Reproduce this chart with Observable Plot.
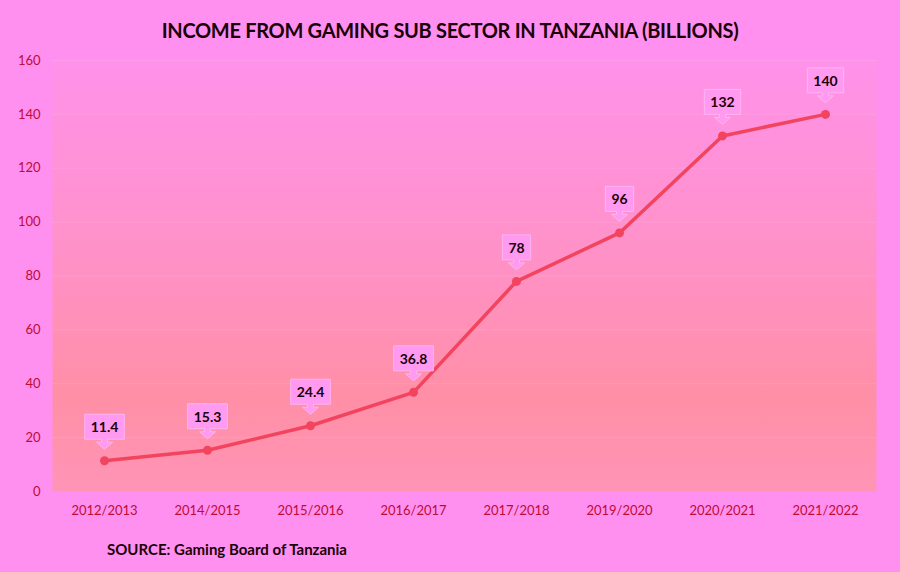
<!DOCTYPE html>
<html>
<head>
<meta charset="utf-8">
<script src="https://cdn.jsdelivr.net/npm/d3@7"></script>
<script src="https://cdn.jsdelivr.net/npm/@observablehq/plot@0.6"></script>
<style>
  html, body { margin: 0; padding: 0; background: #ff90f0; }
  #wrap { width: 900px; height: 572px; background: #ff90f0; overflow: hidden; }
  #title { height: 48px; line-height: 60px; text-align: center; font-family: Lato, "Open Sans", sans-serif; font-weight: bold; font-size: 20px; color: #1a0008; letter-spacing: -0.3px; }
  #caption { height: 44px; padding-left: 107px; line-height: 42px; font-family: Lato, "Open Sans", sans-serif; font-weight: bold; font-size: 15px; color: #1a0008; }
  svg { display: block; }
</style>
</head>
<body>
<div id="wrap">
  <div id="title">INCOME FROM GAMING SUB SECTOR IN TANZANIA (BILLIONS)</div>
  <div id="chart"></div>
  <div id="caption">SOURCE: Gaming Board of Tanzania</div>
</div>
<script>
const years = ["2012/2013", "2014/2015", "2015/2016", "2016/2017", "2017/2018", "2019/2020", "2020/2021", "2021/2022"];
const income = [11.4, 15.3, 24.4, 36.8, 78, 96, 132, 140];
const labels = ["11.4", "15.3", "24.4", "36.8", "78", "96", "132", "140"];
const yTicks = [0, 20, 40, 60, 80, 100, 120, 140, 160];

const data = years.map((y, i) => ({year: y, value: income[i], label: labels[i]}));

const lineColor = "#f2445f";

const defs = () => {
  const g = d3.create("svg:defs");
  const lg = g.append("linearGradient").attr("id", "bg").attr("x1", 0).attr("y1", 0).attr("x2", 0).attr("y2", 1);
  lg.append("stop").attr("offset", "0%").attr("stop-color", "#ff92ea");
  lg.append("stop").attr("offset", "45%").attr("stop-color", "#ff91c8");
  lg.append("stop").attr("offset", "78%").attr("stop-color", "#ff8fa6");
  lg.append("stop").attr("offset", "100%").attr("stop-color", "#ff94b6");
  return g.node();
};

const chart = Plot.plot({
  width: 900,
  height: 480,
  marginTop: 12,
  marginBottom: 37,
  marginLeft: 52,
  marginRight: 24,
  style: {background: "transparent", fontFamily: "Lato, 'Open Sans', sans-serif", fontSize: "13px", color: "#c00a35"},
  x: {type: "point", domain: years, padding: 0.5, label: null, tickSize: 0, tickPadding: 14},
  y: {domain: [0, 160], ticks: yTicks, label: null, tickSize: 0, tickPadding: 12, grid: false},
  marks: [
    defs,
    Plot.frame({fill: "url(#bg)", stroke: null}),
    Plot.ruleY(yTicks.slice(1), {stroke: "#ffffff", strokeOpacity: 0.1}),
    Plot.line(data, {x: "year", y: "value", stroke: lineColor, strokeWidth: 3.5}),
    Plot.dot(data, {x: "year", y: "value", fill: lineColor, r: 4.5}),
    Plot.text(data, {x: "year", y: "value", text: "label", dy: -33, fontWeight: "bold", fontSize: 14, fill: "#1a0008", className: "callout"})
  ]
});

document.getElementById("chart").appendChild(chart);

// Draw callout boxes behind the value labels
const ns = "http://www.w3.org/2000/svg";
const textGroup = chart.querySelector("g.callout");
if (textGroup) {
  const boxes = document.createElementNS(ns, "g");
  const gt = textGroup.getAttribute("transform");
  if (gt) boxes.setAttribute("transform", gt);
  textGroup.parentNode.insertBefore(boxes, textGroup);
  textGroup.querySelectorAll("text").forEach(t => {
    const b = t.getBBox();
    const ctm = t.getAttribute("transform");
    const padX = 6, padY = 4;
    const x0 = b.x - padX, x1 = b.x + b.width + padX;
    const y0 = b.y - padY, y1 = b.y + b.height + padY;
    const cx = b.x + b.width / 2;
    const sw = 3, aw = 8, sh = 3, ah = 7;
    const d = `M${x0},${y0}H${x1}V${y1}H${cx + sw}V${y1 + sh}H${cx + aw}L${cx},${y1 + sh + ah}L${cx - aw},${y1 + sh}H${cx - sw}V${y1}H${x0}Z`;
    const p = document.createElementNS(ns, "path");
    p.setAttribute("d", d);
    p.setAttribute("fill", "#ff9af0");
    p.setAttribute("stroke", "#ffb4f2");
    p.setAttribute("stroke-width", "1");
    if (ctm) p.setAttribute("transform", ctm);
    boxes.appendChild(p);
  });
}
</script>
</body>
</html>
